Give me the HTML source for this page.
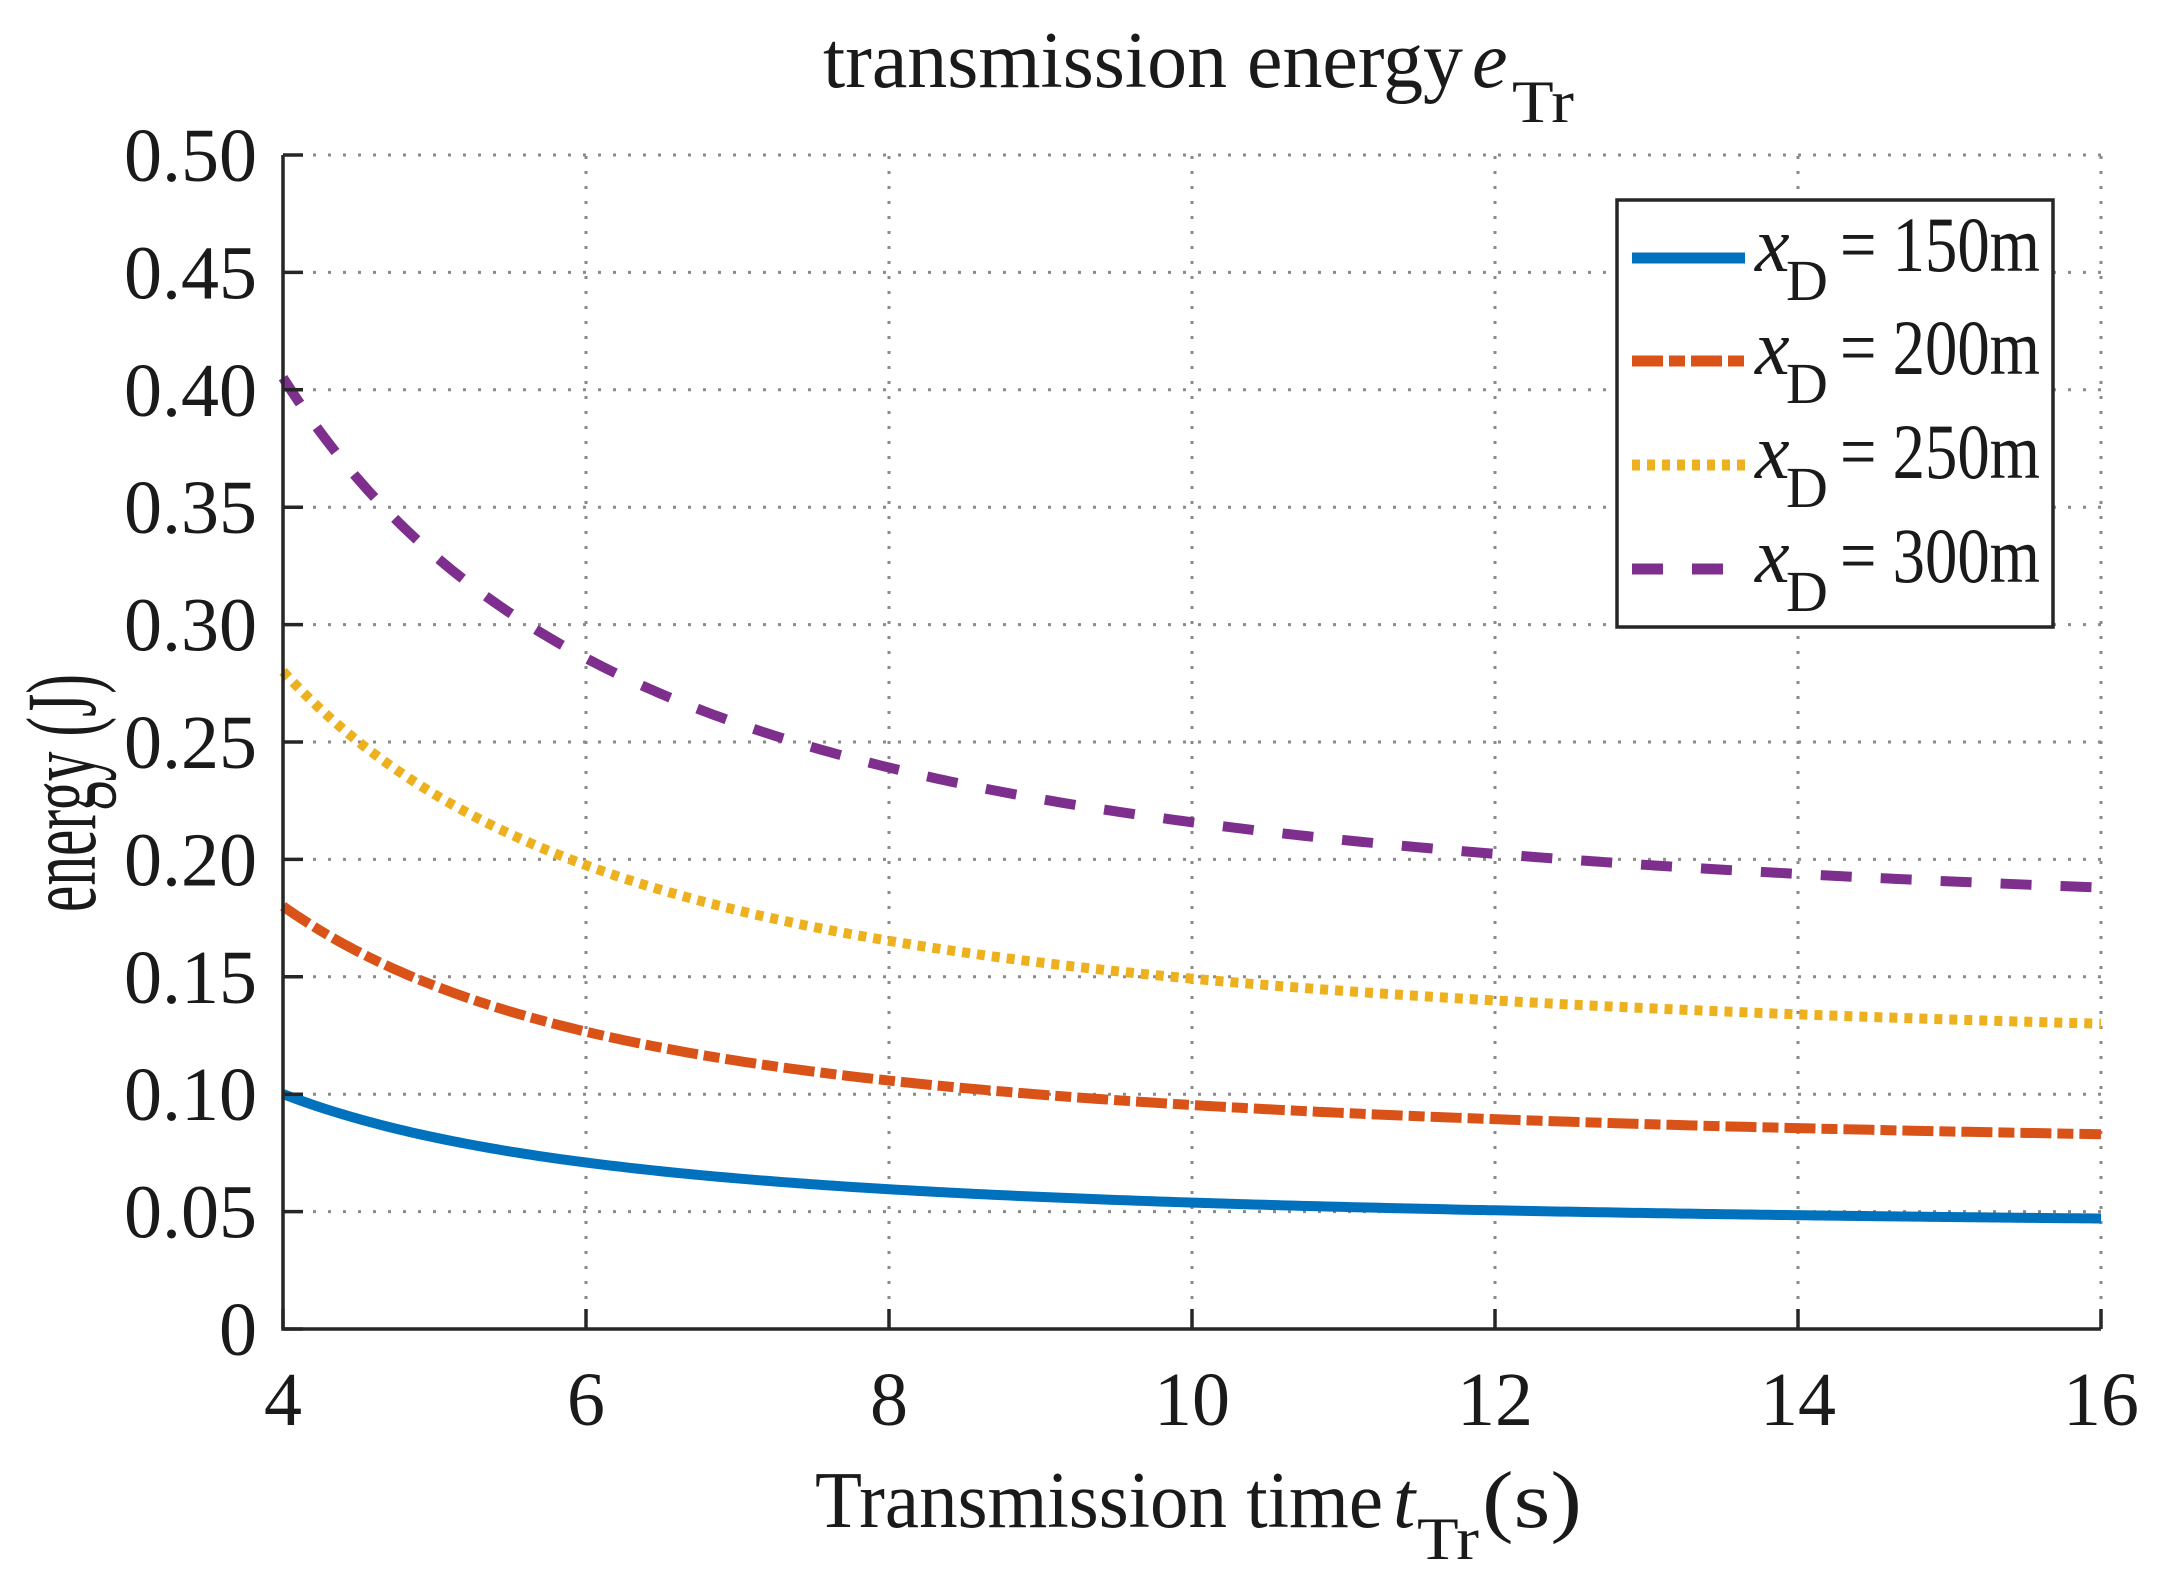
<!DOCTYPE html>
<html><head><meta charset="utf-8"><style>
html,body{margin:0;padding:0;background:#fff}
svg{display:block}
text{font-family:"Liberation Serif",serif;fill:#1a1a1a}
</style></head><body>
<svg id="s" width="2166" height="1589" viewBox="0 0 2166 1589" xmlns="http://www.w3.org/2000/svg">
<rect width="2166" height="1589" fill="#fff"/>
<g id="grid" stroke="#8a8a8a" stroke-width="3" stroke-dasharray="3 12"></g>
<g id="curves" fill="none" stroke-width="10"></g>
<g id="axes" stroke="#262626" stroke-width="3.5" fill="none"></g>
<g id="ticks" font-size="76"></g>
<text x="823" y="87" font-size="80" textLength="640" lengthAdjust="spacingAndGlyphs">transmission energy</text>
<text x="1472" y="87" font-size="80" font-style="italic">e</text>
<text x="1512" y="122" font-size="60" textLength="62" lengthAdjust="spacingAndGlyphs">Tr</text>
<text x="815" y="1527" font-size="80" textLength="568" lengthAdjust="spacingAndGlyphs">Transmission time</text>
<text x="1393" y="1527" font-size="80" font-style="italic">t</text>
<text x="1417" y="1559" font-size="60" textLength="62" lengthAdjust="spacingAndGlyphs">Tr</text>
<text x="1482" y="1527" font-size="80" textLength="100" lengthAdjust="spacingAndGlyphs">(s)</text>
<text transform="translate(95,912) rotate(-90)" font-size="100" textLength="238" lengthAdjust="spacingAndGlyphs">energy (J)</text>
<g id="legend"></g>
</svg>
<script>
var L=283,R=2101,T=155,B=1329;
function X(t){return L+(t-4)/12*(R-L);}
function Y(v){return B-v/0.5*(B-T);}
var ns="http://www.w3.org/2000/svg";
function el(p,tag,a,txt){var e=document.createElementNS(ns,tag);for(var k in a)e.setAttribute(k,a[k]);if(txt!==undefined)e.textContent=txt;document.getElementById(p).appendChild(e);return e;}
for(var t=6;t<=16;t+=2){el("grid","line",{x1:X(t),y1:B,x2:X(t),y2:T});}
for(var i=1;i<=10;i++){el("grid","line",{x1:L,y1:Y(i*0.05),x2:R,y2:Y(i*0.05)});}
var series=[
 {a:0.0415,b:0.6184,c:"#0072BD",d:""},
 {a:0.0728,b:1.132,c:"#D95319",d:"31 6 16 6"},
 {a:0.1143,b:1.750,c:"#EDB120",d:"8 7"},
 {a:0.1653,b:2.532,c:"#7E2F8E",d:"31 29"}];
series.forEach(function(s){
 var pts=[];for(var k=0;k<=300;k++){var t=4+12*k/300;var v=s.a+s.b*Math.pow(t,-1.7);pts.push(X(t).toFixed(2)+","+Y(v).toFixed(2));}
 var a={d:"M"+pts.join(" L"),stroke:s.c};if(s.d)a["stroke-dasharray"]=s.d;
 el("curves","path",a);
});
el("axes","path",{d:"M"+L+","+T+" L"+L+","+B+" L"+R+","+B});
for(var t=4;t<=16;t+=2){el("axes","line",{x1:X(t),y1:B,x2:X(t),y2:B-20});
 el("ticks","text",{x:X(t),y:1425,"text-anchor":"middle"},String(t));}
for(var i=0;i<=10;i++){var v=i*0.05;el("axes","line",{x1:L,y1:Y(v),x2:L+20,y2:Y(v)});
 el("ticks","text",{x:257,y:Y(v)+26,"text-anchor":"end"},i==0?"0":v.toFixed(2));}
el("legend","rect",{x:1617,y:200,width:436,height:427,fill:"#fff",stroke:"#262626","stroke-width":3.5});
var rows=[258,361,465,569],labs=["150m","200m","250m","300m"];
series.forEach(function(s,i){
 var y=rows[i];var a={x1:1632,y1:y,x2:1745,y2:y,stroke:s.c,"stroke-width":11};if(s.d)a["stroke-dasharray"]=s.d;
 el("legend","line",a);
 el("legend","text",{x:1755,y:y+13,"font-size":78,"font-style":"italic"},"x");
 el("legend","text",{x:1786,y:y+42,"font-size":58},"D");
 el("legend","text",{x:1840,y:y+13,"font-size":78,textLength:200,lengthAdjust:"spacingAndGlyphs"},"= "+labs[i]);
});
</script>
</body></html>
